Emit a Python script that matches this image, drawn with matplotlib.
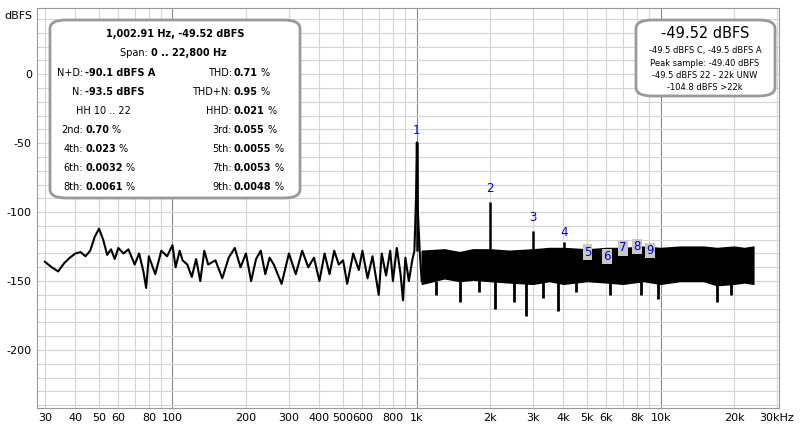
import matplotlib
matplotlib.use("Agg")
import matplotlib.pyplot as plt
from matplotlib.patches import FancyBboxPatch
import numpy as np

# low frequency part of the spectrum (Hz, dBFS)
lf_freq = [30, 32, 34, 36, 38, 40, 42, 44, 46, 48, 50, 52, 54, 56, 58, 60, 63, 66, 70, 73,
           76, 78, 80, 85, 90, 95, 100, 103, 107, 110, 115, 120, 125, 130, 135, 140, 150,
           160, 170, 180, 190, 200, 210, 220, 230, 240, 250, 260, 280, 300, 320, 340, 360,
           380, 400, 420, 440, 460, 480, 500, 520, 550, 580, 600, 630, 660, 700, 720, 750,
           780, 800, 830, 860, 880, 900, 930, 960, 980, 995, 1003, 1010, 1030, 1050]
lf_db = [-136, -140, -143, -137, -133, -130, -129, -132, -128, -118, -112, -120, -131, -127,
         -134, -126, -130, -127, -138, -130, -143, -155, -132, -145, -128, -132, -124, -140,
         -128, -135, -138, -147, -134, -150, -128, -138, -135, -148, -133, -126, -140, -130,
         -150, -134, -128, -145, -133, -138, -152, -130, -145, -128, -140, -133, -150, -130,
         -145, -128, -138, -135, -152, -130, -142, -128, -148, -132, -160, -130, -146, -128,
         -150, -126, -145, -164, -133, -150, -135, -128, -90, -49.5, -95, -128, -150]

# dense noise band above 1 kHz: envelope
band_freq = [1050, 1300, 1500, 1700, 2000, 2400, 3000, 3500, 4000, 5000, 6000, 7000, 8500,
             10000, 12000, 15000, 17000, 20000, 22000, 24000]
band_top = [-128, -127, -129, -127, -127, -128, -127, -126, -126, -127, -126, -126, -125,
            -126, -125, -125, -126, -125, -126, -125]
band_bot = [-152, -148, -150, -149, -150, -151, -152, -150, -152, -150, -151, -152, -150,
            -152, -150, -150, -153, -152, -151, -152]

# downward spikes in the band
spike_freq = [1200, 1500, 1800, 2100, 2500, 2800, 3300, 3800, 4500, 6200, 8300, 9800, 17000, 19500]
spike_db = [-160, -165, -158, -170, -165, -175, -162, -172, -158, -160, -160, -163, -165, -160]

# harmonic peaks
harm_freq = [1003, 2006, 3009, 4012, 5015, 6018, 7021, 8024, 9027]
harm_db = [-49.5, -93, -114, -122, -127, -127, -126, -126, -126]
label_db = [-40.6, -82.6, -104, -114.5, -129, -132, -126, -125, -128]

xticks = [30, 40, 50, 60, 80, 100, 200, 300, 400, 500, 600, 800, 1000, 2000, 3000, 4000,
          5000, 6000, 8000, 10000, 20000, 30000]
xticklabels = ["30", "40", "50", "60", "80", "100", "200", "300", "400", "500", "600", "800",
               "1k", "2k", "3k", "4k", "5k", "6k", "8k", "10k", "20k", "30kHz"]

plt.rcParams["font.family"] = "DejaVu Sans"
plt.rcParams["axes.unicode_minus"] = False
fig = plt.figure(figsize=(8, 4.32), dpi=100)
ax = fig.add_axes([0.046, 0.0556, 0.9275, 0.926])
ax.set_xscale("log")
ax.set_xlim(27.8, 30500)
ax.set_ylim(-242, 48)

# grid
for dec in [10, 100, 1000, 10000]:
    for m in range(1, 10):
        f = dec * m
        if 27.8 < f < 30500:
            ax.axvline(f, color="#888888" if m == 1 else "#d4d4d4", lw=0.8, zorder=0)
for y in range(-240, 50, 10):
    ax.axhline(y, color="#d4d4d4", lw=0.8, zorder=0)

ax.plot(lf_freq, lf_db, color="black", lw=1.5, zorder=3)
ax.fill_between(band_freq, band_bot, band_top, color="black", lw=1, edgecolor="black", zorder=3)
ax.vlines(spike_freq, np.interp(spike_freq, band_freq, band_bot), spike_db, color="black", lw=2, zorder=3)
ax.vlines(harm_freq[:4], np.interp(harm_freq[:4], band_freq, band_top, left=-128), harm_db[:4],
          color="black", lw=1.8, zorder=3)

for i, (f, y) in enumerate(zip(harm_freq, label_db)):
    kw = {}
    if i >= 4:
        kw["bbox"] = dict(boxstyle="square,pad=0.1", fc="#c8c8c8", ec="none")
    ax.text(f, y, str(i + 1), color="#0000cc", fontsize=8.5, ha="center", va="center", zorder=5, **kw)

ax.set_xticks(xticks)
ax.set_xticklabels(xticklabels)
ax.xaxis.set_minor_formatter(matplotlib.ticker.NullFormatter())
ax.set_yticks([0, -50, -100, -150, -200])
ax.tick_params(length=0, labelsize=8, which="both")
for s in ax.spines.values():
    s.set_color("#999999")
fig.text(0.006, 0.975, "dBFS", fontsize=8, va="top")

# info boxes
def box(x0, y0, x1, y1):
    p = FancyBboxPatch((x0 / 800, 1 - y1 / 432), (x1 - x0) / 800, (y1 - y0) / 432,
                       boxstyle="round,pad=0,rounding_size=0.02", transform=fig.transFigure,
                       fc="white", ec="#999999", lw=2, zorder=10)
    fig.patches.append(p)

box(50, 20, 300, 198)
box(636, 20, 775, 96)

def ftxt(x, y, s, **kw):
    return fig.text(x / 800, 1 - y / 432, s, zorder=11, va="center", **kw)

def pct(t):
    fig.add_artist(matplotlib.text.Annotation("%", xy=(1, 0.5), xycoords=t, xytext=(2, 0),
                                              textcoords="offset points", fontsize=7,
                                              va="center", zorder=11))

ftxt(175, 34, "1,002.91 Hz, -49.52 dBFS", fontsize=7, weight="bold", ha="center")
ftxt(151, 53, "Span: ", fontsize=7, ha="right")
ftxt(151, 53, "0 .. 22,800 Hz", fontsize=7, ha="left", weight="bold")
rows = [(73, "N+D:", "-90.1 dBFS A", "THD:", "0.71 %"),
        (92, "N:", "-93.5 dBFS", "THD+N:", "0.95 %"),
        (111, None, None, "HHD:", "0.021 %"),
        (130, "2nd:", "0.70 %", "3rd:", "0.055 %"),
        (149, "4th:", "0.023 %", "5th:", "0.0055 %"),
        (168, "6th:", "0.0032 %", "7th:", "0.0053 %"),
        (187, "8th:", "0.0061 %", "9th:", "0.0048 %")]
for y, l1, v1, l2, v2 in rows:
    if l1:
        ftxt(83, y, l1, fontsize=7, ha="right")
        t = ftxt(85, y, v1.replace("%", "").strip(), fontsize=7, ha="left", weight="bold")
        if v1.endswith("%"):
            pct(t)
    ftxt(232, y, l2, fontsize=7, ha="right")
    t = ftxt(234, y, v2.replace("%", "").strip(), fontsize=7, ha="left", weight="bold")
    pct(t)
ftxt(103, 111, "HH 10 .. 22", fontsize=7, ha="center")

ftxt(705, 33, "-49.52 dBFS", fontsize=10.5, ha="center")
for y, s in [(51, "-49.5 dBFS C, -49.5 dBFS A"), (63, "Peak sample: -49.40 dBFS"),
             (76, "-49.5 dBFS 22 - 22k UNW"), (88, "-104.8 dBFS >22k")]:
    ftxt(705, y, s, fontsize=6, ha="center")

fig.savefig("out.png", dpi=100)
